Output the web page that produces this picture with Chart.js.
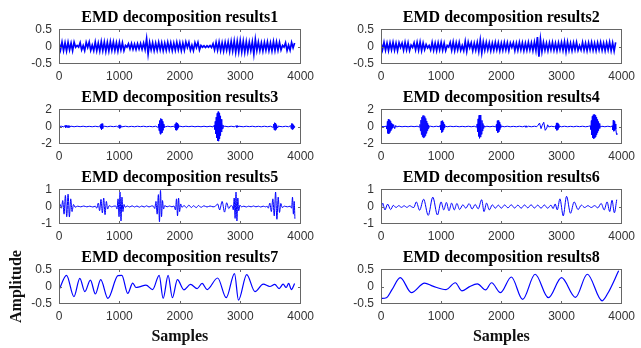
<!DOCTYPE html>
<html>
<head>
<meta charset="utf-8">
<script src="https://cdn.jsdelivr.net/npm/chart.js@4.4.0/dist/chart.umd.min.js"></script>
<style>
  html, body { margin: 0; padding: 0; background: #fff; width: 641px; height: 348px; overflow: hidden; }
  canvas { position: absolute; }
</style>
</head>
<body>
<script>
"use strict";

// IMF 1 and 2: one value every 25 samples, from sample 0 to 3900
var uniformStep = 25;

var imf1 = [
  0.12,-0.10,0.13,-0.12,0.11,-0.13,0.12,-0.10,
  0.10,-0.12,0.13,-0.02,0.03,-0.02,0.11,-0.10,
  0.03,-0.12,0.12,-0.03,0.13,-0.11,0.04,-0.12,
  0.13,-0.12,0.10,-0.13,0.14,-0.12,0.13,-0.14,
  0.12,-0.13,0.14,-0.11,0.13,-0.12,0.11,-0.13,
  0.12,-0.10,0.11,-0.12,0.03,-0.02,0.08,-0.07,
  0.09,-0.08,0.07,-0.09,0.08,-0.07,0.09,-0.08,
  0.10,-0.09,0.23,-0.22,0.12,-0.10,0.11,-0.12,
  0.10,-0.11,0.12,-0.10,0.11,-0.12,0.10,-0.11,
  0.12,-0.10,0.11,-0.12,0.10,-0.11,0.12,-0.10,
  0.11,-0.12,0.10,-0.11,0.13,-0.03,0.12,-0.11,
  0.04,-0.12,0.11,-0.03,0.12,-0.10,0.03,-0.02,
  0.02,-0.03,0.02,-0.02,0.03,-0.03,0.08,-0.10,
  0.12,-0.11,0.13,-0.12,0.11,-0.13,0.12,-0.11,
  0.13,-0.14,0.15,-0.13,0.16,-0.17,0.15,-0.16,
  0.17,-0.16,0.15,-0.17,0.14,-0.15,0.13,-0.12,
  0.14,-0.22,0.21,-0.12,0.13,-0.12,0.11,-0.13,
  0.12,-0.11,0.13,-0.12,0.11,-0.13,0.14,-0.12,
  0.13,-0.11,0.12,-0.10,0.03,-0.02,0.11,-0.12,
  0.04,-0.11,0.12,-0.04,0.10
];

var imf2 = [
  0.11,-0.10,0.12,-0.11,0.10,-0.12,0.11,-0.10,
  0.12,-0.11,0.10,-0.12,0.11,-0.03,0.10,-0.11,
  0.12,-0.10,0.11,-0.12,0.04,-0.03,0.11,-0.10,
  0.12,-0.11,0.13,-0.12,0.10,-0.09,0.06,-0.04,
  0.03,-0.10,0.12,-0.11,0.10,-0.12,0.11,-0.10,
  0.12,-0.11,0.10,-0.12,0.03,-0.02,0.12,-0.11,
  0.13,-0.12,0.11,-0.10,0.12,-0.11,0.03,-0.12,
  0.15,-0.14,0.13,-0.04,0.11,-0.12,0.10,-0.11,
  0.12,-0.14,0.19,-0.18,0.13,-0.11,0.12,-0.10,
  0.11,-0.12,0.10,-0.11,0.12,-0.10,0.11,-0.12,
  0.10,-0.11,0.12,-0.10,0.11,-0.12,0.10,-0.03,
  0.11,-0.12,0.10,-0.11,0.12,-0.10,0.11,-0.12,
  0.10,-0.11,0.12,-0.10,0.11,-0.12,0.13,-0.12,
  0.28,-0.30,0.22,-0.15,0.12,-0.11,0.10,-0.12,
  0.11,-0.10,0.12,-0.11,0.10,-0.12,0.11,-0.10,
  0.12,-0.11,0.14,-0.15,0.13,-0.11,0.10,-0.12,
  0.11,-0.10,0.12,-0.11,0.03,-0.10,0.12,-0.11,
  0.10,-0.12,0.11,-0.10,0.12,-0.11,0.10,-0.12,
  0.11,-0.10,0.12,-0.11,0.10,-0.12,0.11,-0.10,
  0.13,-0.12,0.11,-0.13,0.12
];

// IMF 3..8: [sample, amplitude] pairs
var imf3 = [
  [0,0],[40,0.03],[80,-0.04],[100,0.10],[108,-0.12],[116,0.13],[124,-0.11],[132,0.12],[140,-0.10],[148,0.11],
  [156,-0.12],[164,0.10],[172,-0.09],[180,0.08],[188,-0.06],[200,0.04],[250,-0.03],[300,0.03],[350,-0.02],[400,0.03],
  [450,-0.03],[500,0.02],[550,-0.03],[600,0.03],[650,-0.03],[680,0.08],[688,-0.20],[696,0.30],[704,-0.36],[712,0.34],
  [720,-0.28],[728,0.18],[736,-0.10],[750,0.04],[800,-0.03],[850,0.03],[900,-0.02],[950,0.03],[985,-0.08],[993,0.18],
  [1001,-0.22],[1009,0.20],[1017,-0.16],[1025,0.10],[1040,-0.04],[1100,0.03],[1150,-0.03],[1200,0.02],[1250,-0.03],[1300,0.03],
  [1350,-0.02],[1400,0.03],[1450,-0.03],[1500,0.02],[1550,-0.03],[1600,0.03],[1640,-0.10],[1648,0.30],[1656,-0.50],[1664,0.70],
  [1672,-0.85],[1680,0.95],[1688,-0.90],[1696,0.85],[1704,-0.75],[1712,0.60],[1720,-0.45],[1728,0.30],[1736,-0.18],[1744,0.08],
  [1760,-0.04],[1800,0.03],[1850,-0.03],[1900,0.03],[1915,-0.12],[1923,0.30],[1931,-0.42],[1939,0.45],[1947,-0.44],[1955,0.40],
  [1963,-0.32],[1971,0.22],[1979,-0.12],[1990,0.05],[2050,-0.03],[2100,0.03],[2150,-0.02],[2200,0.03],[2250,-0.03],[2300,0.02],
  [2350,-0.03],[2400,0.03],[2450,-0.03],[2500,0.03],[2550,-0.05],[2570,0.15],[2578,-0.35],[2586,0.60],[2594,-0.85],[2602,1.10],
  [2610,-1.35],[2618,1.55],[2626,-1.70],[2634,1.75],[2642,-1.72],[2650,1.60],[2658,-1.45],[2666,1.25],[2674,-1.05],[2682,0.85],
  [2690,-0.65],[2698,0.45],[2706,-0.30],[2714,0.18],[2722,-0.10],[2740,0.04],[2800,-0.03],[2850,0.03],[2900,-0.03],[2935,0.08],
  [2943,-0.10],[2951,0.09],[2959,-0.06],[2980,0.03],[3050,-0.03],[3100,0.03],[3150,-0.02],[3200,0.03],[3250,-0.03],[3300,0.02],
  [3350,-0.03],[3400,0.03],[3450,-0.03],[3500,0.03],[3545,-0.10],[3553,0.28],[3561,-0.40],[3569,0.45],[3577,-0.44],[3585,0.40],
  [3593,-0.32],[3601,0.22],[3609,-0.12],[3625,0.04],[3700,-0.03],[3750,0.03],[3800,-0.03],[3835,0.10],[3843,-0.25],[3851,0.35],
  [3859,-0.36],[3867,0.33],[3875,-0.28],[3883,0.20],[3891,-0.12],[3900,0.05]
];

var imf4 = [
  [0,0.02],[50,-0.03],[90,0.05],[98,-0.30],[106,0.60],[114,-0.80],[122,0.85],[130,-0.85],[138,0.78],[146,-0.70],
  [154,0.60],[162,-0.50],[170,0.40],[178,-0.32],[186,0.25],[195,-0.18],[210,0.22],[228,-0.25],[245,0.12],[260,-0.05],
  [300,0.03],[350,-0.03],[400,0.02],[450,-0.03],[500,0.03],[550,-0.02],[600,0.03],[640,-0.06],[648,0.25],[656,-0.50],
  [664,0.75],[672,-0.95],[680,1.10],[688,-1.20],[696,1.28],[704,-1.32],[712,1.30],[720,-1.25],[728,1.18],[736,-1.08],
  [744,0.95],[752,-0.80],[760,0.65],[768,-0.50],[776,0.38],[784,-0.26],[792,0.16],[800,-0.08],[820,0.03],[870,-0.03],
  [920,0.03],[970,-0.03],[985,0.15],[993,-0.40],[1001,0.62],[1009,-0.70],[1017,0.68],[1025,-0.60],[1033,0.48],[1041,-0.36],
  [1049,0.25],[1057,-0.15],[1068,0.06],[1100,-0.03],[1150,0.03],[1200,-0.02],[1250,0.03],[1300,-0.03],[1350,0.02],[1400,-0.03],
  [1450,0.03],[1500,-0.03],[1550,0.03],[1590,-0.08],[1598,0.30],[1606,-0.60],[1614,0.90],[1622,-1.15],[1630,1.32],[1638,-1.38],
  [1646,1.35],[1654,-1.25],[1662,1.10],[1670,-0.92],[1678,0.72],[1686,-0.52],[1694,0.36],[1702,-0.22],[1710,0.12],[1725,-0.05],
  [1760,0.03],[1810,-0.03],[1860,0.03],[1910,-0.05],[1918,0.25],[1926,-0.50],[1934,0.68],[1942,-0.72],[1950,0.70],[1958,-0.62],
  [1966,0.50],[1974,-0.36],[1982,0.22],[1990,-0.12],[2005,0.04],[2050,-0.03],[2100,0.03],[2150,-0.03],[2200,0.02],[2250,-0.03],
  [2300,0.03],[2350,-0.03],[2400,0.06],[2410,-0.09],[2420,0.08],[2430,-0.06],[2450,0.03],[2500,-0.03],[2550,0.03],[2590,-0.02],
  [2610,0.15],[2635,0.40],[2660,-0.25],[2680,0.15],[2705,0.50],[2730,-0.45],[2755,-0.20],[2770,0.20],[2790,-0.05],[2830,0.03],
  [2880,-0.03],[2900,0.08],[2908,-0.30],[2916,0.42],[2924,-0.45],[2932,0.42],[2940,-0.35],[2948,0.25],[2956,-0.14],[2966,0.05],
  [3000,-0.03],[3050,0.03],[3100,-0.03],[3150,0.02],[3200,-0.03],[3250,0.03],[3300,-0.02],[3350,0.03],[3400,-0.03],[3450,0.02],
  [3480,0.08],[3488,-0.35],[3496,0.70],[3504,-1.00],[3512,1.20],[3520,-1.32],[3528,1.38],[3536,-1.42],[3544,1.40],[3552,-1.36],
  [3560,1.30],[3568,-1.20],[3576,1.08],[3584,-0.95],[3592,0.82],[3600,-0.70],[3608,0.58],[3616,-0.46],[3624,0.35],[3632,-0.25],
  [3640,0.16],[3650,-0.08],[3670,0.03],[3720,-0.03],[3770,0.03],[3820,-0.03],[3845,0.08],[3853,-0.40],[3861,0.75],[3869,-0.55],
  [3877,0.60],[3885,-0.45],[3893,0.30],[3903,-0.30],[3912,-0.80],[3920,-0.95]
];

var imf5 = [
  [0,0],[20,0.12],[40,-0.10],[62,0.35],[84,-0.45],[106,0.65],[128,-0.60],[150,0.72],[172,-0.62],[194,0.45],
  [216,-0.30],[240,0.12],[265,-0.04],[310,0.02],[360,-0.02],[410,0.03],[460,-0.02],[510,0.02],[560,-0.03],[600,0.02],
  [625,-0.10],[650,0.20],[672,-0.25],[695,0.42],[718,-0.38],[740,0.50],[762,-0.48],[784,0.30],[805,-0.15],[830,0.05],
  [870,-0.02],[905,0.02],[940,0.03],[960,-0.15],[978,0.45],[994,-0.60],[1010,0.85],[1026,-0.85],[1042,0.55],[1058,-0.30],
  [1076,0.12],[1095,-0.04],[1130,0.03],[1170,-0.03],[1210,0.04],[1250,-0.03],[1290,0.03],[1330,-0.04],[1370,0.03],[1410,-0.03],
  [1450,0.04],[1490,-0.03],[1530,0.03],[1560,0.03],[1585,-0.12],[1605,0.30],[1625,-0.45],[1645,0.70],[1663,-0.90],[1680,0.95],
  [1697,-0.60],[1713,0.35],[1730,-0.15],[1750,0.05],[1790,-0.02],[1830,0.03],[1870,-0.02],[1905,0.03],[1928,-0.20],[1945,0.45],
  [1962,-0.55],[1979,0.50],[1996,-0.30],[2014,0.15],[2035,-0.05],[2070,0.06],[2110,-0.07],[2150,0.08],[2190,-0.06],[2230,0.05],
  [2270,-0.07],[2310,0.06],[2350,-0.05],[2400,0.04],[2450,-0.03],[2500,0.03],[2550,-0.02],[2590,0.02],[2625,0.15],[2660,-0.20],
  [2700,0.30],[2740,-0.33],[2775,0.22],[2810,-0.12],[2845,0.05],[2870,0.02],[2885,-0.20],[2900,0.50],[2915,-0.70],[2930,0.85],
  [2945,-0.85],[2960,0.50],[2975,-0.25],[2995,0.08],[3020,-0.02],[3060,0.02],[3100,-0.03],[3140,0.02],[3180,-0.02],[3220,0.03],
  [3260,-0.02],[3300,0.02],[3340,-0.03],[3380,0.02],[3420,-0.02],[3445,0.02],[3465,-0.10],[3490,0.20],[3515,-0.30],[3540,0.45],
  [3563,-0.55],[3585,0.85],[3607,-0.75],[3628,0.55],[3650,-0.35],[3672,0.18],[3695,-0.06],[3730,0.02],[3780,-0.02],[3830,0.02],
  [3850,-0.10],[3865,0.55],[3880,-0.45],[3893,0.30],[3905,-0.72]
];

var imf6 = [
  [0,-0.20],[27,0.20],[66,-0.20],[110,0.14],[160,-0.18],[205,0.07],[250,-0.06],[295,0.05],[340,-0.05],[385,0.04],
  [430,-0.05],[475,0.05],[520,-0.04],[545,-0.06],[587,0.27],[642,-0.22],[708,0.43],[785,-0.52],[861,0.55],[938,-0.50],
  [999,0.27],[1043,-0.20],[1087,0.24],[1130,-0.25],[1174,0.20],[1218,-0.20],[1262,0.18],[1306,-0.18],[1361,0.10],[1410,-0.10],
  [1465,0.17],[1515,-0.15],[1565,0.12],[1615,-0.14],[1674,0.40],[1712,-0.30],[1755,0.20],[1800,-0.20],[1850,0.10],[1900,-0.10],
  [1950,0.08],[2000,-0.10],[2055,0.09],[2110,-0.08],[2165,0.10],[2220,-0.09],[2275,0.08],[2330,-0.10],[2385,0.09],[2440,-0.08],
  [2495,0.10],[2550,-0.09],[2605,0.08],[2660,-0.10],[2715,0.09],[2770,-0.10],[2825,0.08],[2860,-0.12],[2895,0.15],[2930,-0.20],
  [2974,0.45],[3029,-0.55],[3084,0.60],[3150,-0.40],[3210,0.27],[3276,-0.18],[3330,0.08],[3385,-0.06],[3440,0.05],[3495,-0.06],
  [3550,0.05],[3604,-0.08],[3659,0.18],[3710,-0.20],[3758,0.27],[3802,-0.30],[3840,0.37],[3879,-0.37],[3918,0.40]
];

var imf7 = [
  [0,-0.10],[125,0.33],[246,-0.30],[345,0.24],[427,-0.15],[520,0.19],[602,-0.22],[690,0.20],[810,-0.35],[975,0.32],
  [1040,0.33],[1138,-0.20],[1220,0.10],[1275,-0.03],[1330,-0.01],[1440,0.04],[1550,-0.09],[1658,0.33],[1724,-0.35],[1806,0.33],
  [1877,-0.33],[1960,0.20],[2068,-0.10],[2177,0.06],[2287,-0.06],[2369,0.09],[2451,-0.09],[2626,0.25],[2768,-0.33],[2905,0.38],
  [2971,-0.40],[3107,0.35],[3244,-0.15],[3381,0.07],[3490,0.00],[3572,0.06],[3643,-0.06],[3710,0.07],[3760,-0.03],[3802,0.09],
  [3846,-0.09],[3900,0.09]
];

var imf8 = [
  [0,-0.35],[90,-0.33],[180,-0.10],[320,0.26],[505,-0.18],[724,0.10],[861,0.01],[1081,-0.09],[1235,0.11],[1344,-0.13],
  [1465,-0.01],[1602,0.08],[1739,-0.10],[1838,0.11],[1986,-0.18],[2167,0.28],[2354,-0.38],[2562,0.36],[2782,-0.33],[3001,0.26],
  [3232,-0.32],[3429,0.36],[3676,-0.42],[3770,-0.20],[3950,0.46]
];

var xTicks = [0, 1000, 2000, 3000, 4000];

function uniformPoints(values) {
  return values.map(function (v, i) { return { x: i * uniformStep, y: v }; });
}
function pairPoints(pairs) {
  return pairs.map(function (p) { return { x: p[0], y: p[1] }; });
}

var panels = [
  { title: 'EMD decomposition results1', pts: uniformPoints(imf1), lim: 0.5, row: 0, col: 0, smooth: false, lw: 1.7 },
  { title: 'EMD decomposition results2', pts: uniformPoints(imf2), lim: 0.5, row: 0, col: 1, smooth: false, lw: 1.7 },
  { title: 'EMD decomposition results3', pts: pairPoints(imf3), lim: 2, row: 1, col: 0, smooth: false, lw: 1 },
  { title: 'EMD decomposition results4', pts: pairPoints(imf4), lim: 2, row: 1, col: 1, smooth: false, lw: 1 },
  { title: 'EMD decomposition results5', pts: pairPoints(imf5), lim: 1, row: 2, col: 0, smooth: true, lw: 1 },
  { title: 'EMD decomposition results6', pts: pairPoints(imf6), lim: 1, row: 2, col: 1, smooth: true, lw: 1 },
  { title: 'EMD decomposition results7', pts: pairPoints(imf7), lim: 0.5, row: 3, col: 0, smooth: true, lw: 1.2 },
  { title: 'EMD decomposition results8', pts: pairPoints(imf8), lim: 0.5, row: 3, col: 1, smooth: true, lw: 1.2 }
];

// MATLAB style box with short inward ticks
var boxPlugin = {
  id: 'matlabBox',
  afterDatasetsDraw: function (chart) {
    var ctx = chart.ctx, a = chart.chartArea, sx = chart.scales.x, sy = chart.scales.y;
    var l = Math.round(a.left) + 0.5, r = Math.round(a.right) - 0.5;
    var t = Math.floor(a.top) + 0.5, b = Math.floor(a.bottom) + 0.5;
    ctx.save();
    ctx.strokeStyle = '#666';
    ctx.lineWidth = 1;
    ctx.strokeRect(l, t, r - l, b - t);
    ctx.beginPath();
    sx.ticks.forEach(function (tk) {
      var px = Math.round(sx.getPixelForValue(tk.value)) + 0.5;
      if (px > l + 2 && px < r - 2) {
        ctx.moveTo(px, b); ctx.lineTo(px, b - 2.5);
        ctx.moveTo(px, t); ctx.lineTo(px, t + 2.5);
      }
    });
    sy.ticks.forEach(function (tk) {
      var py = Math.round(sy.getPixelForValue(tk.value)) + 0.5;
      if (py > t + 2 && py < b - 2) {
        ctx.moveTo(l, py); ctx.lineTo(l + 2.5, py);
        ctx.moveTo(r, py); ctx.lineTo(r - 2.5, py);
      }
    });
    ctx.stroke();
    ctx.restore();
  }
};

var tickFont = { family: 'Liberation Sans', size: 12 };
var serifBold = { family: 'Liberation Serif', size: 16, weight: 'bold' };

panels.forEach(function (p) {
  var last = p.row === 3;
  var w = p.col === 0 ? 320 : 321;
  var h = last ? 110 : 100;
  var cv = document.createElement('canvas');
  cv.width = w;
  cv.height = h;
  cv.style.left = (p.col === 0 ? 0 : 320) + 'px';
  cv.style.top = (p.row * 80) + 'px';
  document.body.appendChild(cv);

  new Chart(cv.getContext('2d'), {
    type: 'line',
    data: {
      datasets: [{
        data: p.pts,
        borderColor: '#0000ff',
        borderWidth: p.lw,
        pointRadius: 0,
        fill: false,
        tension: 0,
        cubicInterpolationMode: p.smooth ? 'monotone' : 'default'
      }]
    },
    options: {
      responsive: false,
      animation: false,
      events: [],
      layout: { padding: { left: 0, top: 0, bottom: 0, right: p.col === 0 ? 17.3 : 17 } },
      plugins: {
        legend: { display: false },
        tooltip: { enabled: false },
        title: {
          display: true,
          text: p.title,
          fullSize: false,
          color: '#000',
          font: serifBold,
          padding: { top: 8.4, bottom: 1.9 }
        }
      },
      scales: {
        x: {
          type: 'linear',
          min: 0,
          max: 4000,
          border: { display: false },
          grid: { display: false, drawTicks: false },
          afterBuildTicks: function (s) { s.ticks = xTicks.map(function (v) { return { value: v }; }); },
          ticks: {
            padding: 6, color: '#333', font: tickFont, maxRotation: 0, autoSkip: false,
            callback: function (v) { return String(v); }
          },
          title: {
            display: last,
            text: 'Samples',
            color: '#111',
            font: serifBold,
            padding: { top: 0, bottom: 3.4 }
          },
          afterFit: function (s) { s.height = last ? 46.5 : 36.5; }
        },
        y: {
          min: -p.lim,
          max: p.lim,
          border: { display: false },
          grid: { display: false, drawTicks: false },
          afterBuildTicks: function (s) { s.ticks = [-p.lim, 0, p.lim].map(function (v) { return { value: v }; }); },
          ticks: {
            padding: 7, color: '#333', font: tickFont, autoSkip: false,
            callback: function (v) { return String(v); }
          },
          title: {
            display: last && p.col === 0,
            text: 'Amplitude',
            color: '#111',
            font: serifBold,
            padding: { top: 7.4, bottom: 0 }
          },
          afterFit: function (s) { s.width = p.col === 0 ? 59 : 61; }
        }
      }
    },
    plugins: [boxPlugin]
  });
});
</script>
</body>
</html>
